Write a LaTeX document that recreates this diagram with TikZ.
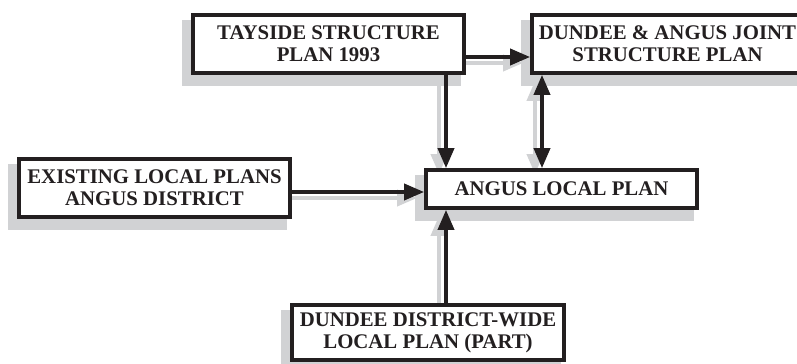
\documentclass[tikz,border=0pt]{standalone}
\usepackage{fontspec}
\setmainfont{Liberation Serif}
\usepackage{tikz}
\usetikzlibrary{arrows.meta, calc, backgrounds}
\definecolor{InkBlack}{HTML}{231F20}
\definecolor{ShadowGrey}{HTML}{D1D2D4}
\pgfdeclarelayer{shade}
\pgfsetlayers{shade,background,main}

\tikzset{
  planbox/.style={draw=InkBlack, fill=white, line width=2.8pt, inner sep=2pt,
                  minimum width=203.25pt, minimum height=43.5pt, align=center,
                  text=InkBlack, font=\bfseries\fontsize{15.6}{16.6}\selectfont},
  flatbox/.style={planbox, minimum height=28.5pt},
  link/.style={draw=InkBlack, line width=2.8pt, -{Triangle[length=15pt,width=12pt]}},
  linkshade/.style={link, draw=ShadowGrey, transform canvas={shift={(-7,6)}}}
}

\begin{document}
\begin{tikzpicture}[x=0.75pt, y=-0.75pt]
    \useasboundingbox (0,0) rectangle (797,364);

    % Plans
    \node[planbox] (tayside) at (328.5,44) {TAYSIDE STRUCTURE\\PLAN 1993};
    \node[planbox] (joint) at (667.5,44) {DUNDEE \& ANGUS JOINT\\STRUCTURE PLAN};
    \node[flatbox] (angus) at (561.5,189) {ANGUS LOCAL PLAN};
    \node[planbox] (existing) at (154.5,188) {EXISTING LOCAL PLANS\\ANGUS DISTRICT};
    \node[planbox, minimum width=204pt, minimum height=41.25pt] (dundee) at (428,332.5)
        {DUNDEE DISTRICT-WIDE\\LOCAL PLAN (PART)};

    % Box shadows
    \begin{pgfonlayer}{shade}
    \foreach \n in {tayside,joint,angus,existing,dundee}
        \filldraw[ShadowGrey, line width=2.8pt]
            ([shift={(-7,9)}]\n.south west) rectangle ([shift={(-7,9)}]\n.north east);
    \end{pgfonlayer}

    % Links (grey copy first)
    \begin{pgfonlayer}{background}
    \foreach \sty in {linkshade,link} {
        \draw[\sty] (tayside.east |- 0,57) -- (joint.west |- 0,57);
        \draw[\sty] (tayside.south -| 446,0) -- (angus.north -| 446,0);
        \draw[\sty, {Triangle[length=15pt,width=12pt]}-{Triangle[length=15pt,width=12pt]}]
            (joint.south -| 542,0) -- (angus.north -| 542,0);
        \draw[\sty] (existing.east |- 0,192) -- (angus.west |- 0,192);
        \draw[\sty] (dundee.north -| 446,0) -- (angus.south -| 446,0);
    }
    \end{pgfonlayer}
\end{tikzpicture}
\end{document}
